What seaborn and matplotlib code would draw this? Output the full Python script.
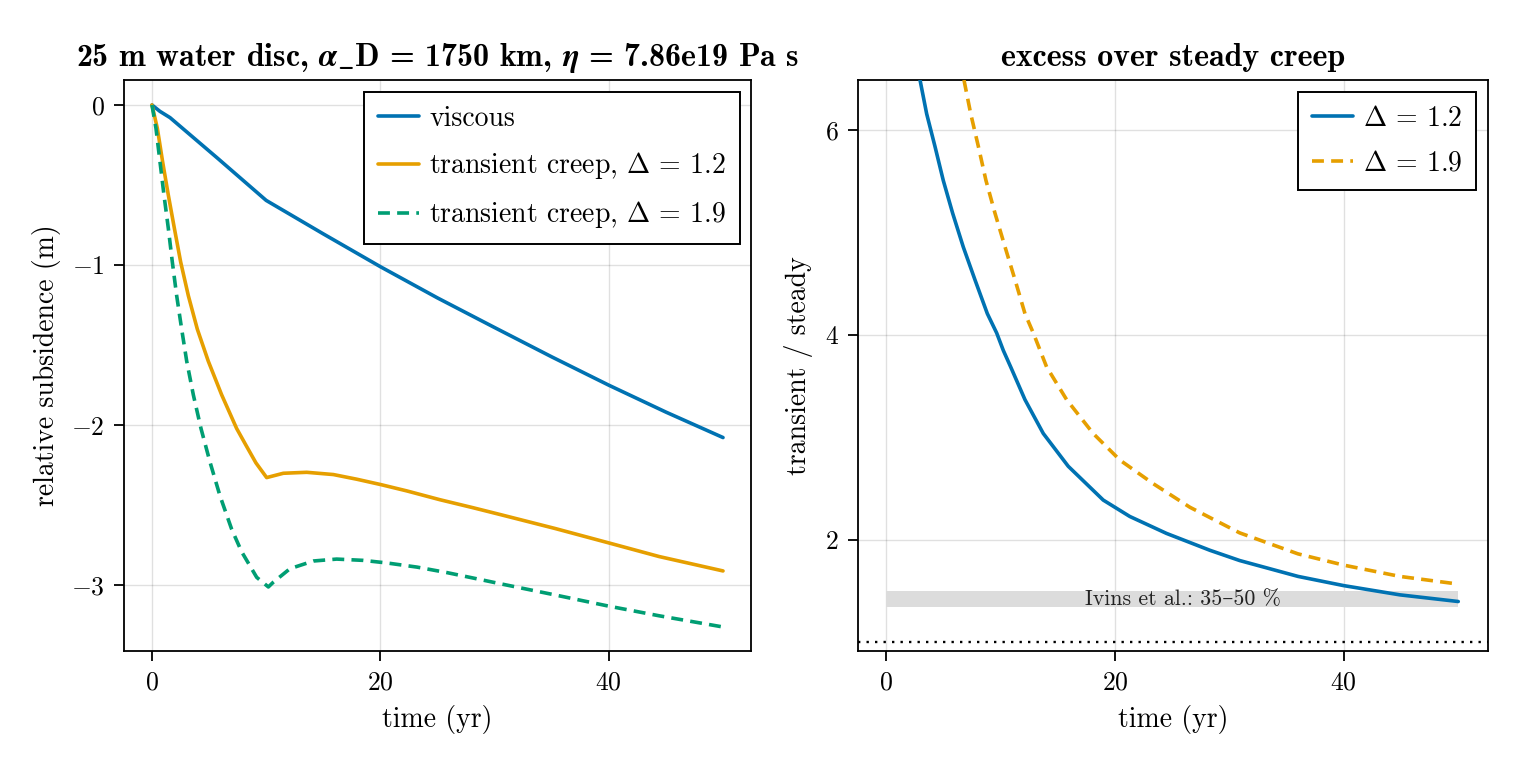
import matplotlib
matplotlib.use("Agg")
import matplotlib.pyplot as plt
from matplotlib.mathtext import MathTextParser
from matplotlib.font_manager import FontProperties
import seaborn as sns

# ---------------- data ----------------
# left panel: relative subsidence (m) vs time (yr)
t_visc = [0, 0.7, 1.58, 5.75, 10, 15, 20, 25, 30, 35, 40, 45, 50]
y_visc = [0, -0.04, -0.079, -0.333, -0.596, -0.805, -1.01, -1.205, -1.39, -1.573, -1.75, -1.918, -2.077]

t_d12 = [0, 0.47, 0.93, 1.43, 1.96, 2.51, 3.18, 3.97, 4.93, 6.1, 7.41, 8.23, 9.1, 10.04,
         11.5, 13.55, 15.88, 17.92, 20.05, 22.3, 25.2, 28.1, 30.5, 35.3, 40, 44.4, 50]
y_d12 = [0, -0.146, -0.354, -0.5625, -0.77, -0.98, -1.19, -1.40, -1.60, -1.81, -2.02, -2.125, -2.235, -2.327,
         -2.30, -2.294, -2.308, -2.337, -2.371, -2.41, -2.465, -2.515, -2.558, -2.645, -2.735, -2.82, -2.91]

t_d19 = [0, 0.35, 0.7, 1.05, 1.43, 1.78, 2.16, 2.6, 3.04, 3.62, 4.29, 5.08, 5.95, 6.98, 7.85, 9.17, 10.19,
         10.63, 12.08, 14.13, 16.17, 18.5, 20.55, 23.2, 25.8, 28.1, 30.5, 35.3, 40, 44.4, 50]
y_d19 = [0, -0.146, -0.354, -0.5625, -0.77, -0.98, -1.19, -1.40, -1.60, -1.81, -2.02, -2.23, -2.44, -2.65, -2.79, -2.95, -3.01,
         -2.98, -2.896, -2.848, -2.836, -2.844, -2.86, -2.886, -2.92, -2.954, -2.99, -3.06, -3.13, -3.19, -3.26]

# right panel: transient / steady ratio
t_r12 = [2.97, 3.55, 4.28, 5.0, 5.82, 6.75, 7.77, 8.85, 9.67, 10.25, 10.89, 12.14, 13.74, 15.92,
         18.98, 21.3, 24.5, 28.3, 30.9, 36, 40, 44.9, 50]
y_r12 = [6.49, 6.16, 5.84, 5.51, 5.19, 4.86, 4.54, 4.21, 4.02, 3.85, 3.69, 3.37, 3.04, 2.72,
         2.39, 2.23, 2.065, 1.90, 1.80, 1.645, 1.555, 1.465, 1.40]

t_r19 = [6.81, 7.4, 8.07, 8.73, 9.52, 10.4, 11.27, 12.14, 12.87, 14.03, 15.78, 18.1, 20.44, 23.35,
         26.55, 30.9, 36, 40, 44.9, 50]
y_r19 = [6.49, 6.16, 5.84, 5.51, 5.19, 4.86, 4.54, 4.21, 4.02, 3.69, 3.37, 3.04, 2.78, 2.55,
         2.32, 2.07, 1.865, 1.755, 1.645, 1.57]

band_t = [0, 50]
band_lo = 1.35
band_hi = 1.50
steady_level = 1.0

left_labels = ["viscous", r"transient creep, $\Delta$ = 1.2", r"transient creep, $\Delta$ = 1.9"]
right_labels = [r"$\Delta$ = 1.2", r"$\Delta$ = 1.9"]
band_label = "Ivins et al.: 35\u201350 %"
title_right = "excess over steady creep"
title_left_candidates = [
    r"25 m water disc, $\boldsymbol{\alpha}\_$D = 1750 km, $\boldsymbol{\eta}$ = 7.86e19 Pa s",
    r"25 m water disc, $\alpha\_$D = 1750 km, $\eta$ = 7.86e19 Pa s",
]

# ---------------- style ----------------
sns.set_theme(style="ticks")
plt.rcParams["font.family"] = ["cmr10", "DejaVu Serif"]
plt.rcParams["mathtext.fontset"] = "cm"
plt.rcParams["axes.formatter.use_mathtext"] = True
plt.rcParams["axes.unicode_minus"] = True
plt.rcParams["text.color"] = "black"
plt.rcParams["axes.labelcolor"] = "black"

def pick_title(cands):
    parser = MathTextParser("agg")
    for s in cands:
        try:
            parser.parse(s, dpi=100, prop=FontProperties(family="cmb10", size=23))
            return s
        except Exception:
            continue
    return cands[-1]

title_left = pick_title(title_left_candidates)

BLUE = "#0072B2"
ORANGE = "#E69F00"
GREEN = "#009E73"
TICK_FS = 18.5
LABEL_FS = 20
LEG_FS = 20
TITLE_FS = 23
LW = 2.6
DASH = (3.3, 2.0)

fig = plt.figure(figsize=(15.2, 7.6), dpi=100)
axL = fig.add_axes([124 / 1520, 1 - 651 / 760, (751 - 124) / 1520, (651 - 80) / 760])
axR = fig.add_axes([858 / 1520, 1 - 651 / 760, (1488 - 858) / 1520, (651 - 80) / 760])

def style_axes(ax):
    ax.grid(True, color="#000000", alpha=0.12, lw=1.0)
    ax.set_axisbelow(True)
    for s in ax.spines.values():
        s.set_color("black")
        s.set_linewidth(1.3)
        s.set_visible(True)
    ax.tick_params(axis="both", direction="out", length=7, width=1.3, color="black",
                   labelsize=TICK_FS, pad=7, labelcolor="black")

def style_legend(leg):
    leg.get_frame().set_linewidth(1.4)
    leg.get_frame().set_edgecolor("black")

leg_kw = dict(loc="upper right", borderaxespad=0, fontsize=LEG_FS, frameon=True,
              fancybox=False, framealpha=1, edgecolor="black", handlelength=1.47,
              handletextpad=0.36, labelspacing=0.65, borderpad=0.5)

# left panel
sns.lineplot(x=t_visc, y=y_visc, ax=axL, color=BLUE, lw=LW, label=left_labels[0])
sns.lineplot(x=t_d12, y=y_d12, ax=axL, color=ORANGE, lw=LW, label=left_labels[1])
sns.lineplot(x=t_d19, y=y_d19, ax=axL, color=GREEN, lw=LW, label=left_labels[2])
axL.lines[-1].set_dashes(DASH)
style_axes(axL)
axL.set_xlim(-2.45, 52.45)
axL.set_ylim(-3.41, 0.156)
axL.set_xticks([0, 20, 40])
axL.set_yticks([0, -1, -2, -3])
axL.set_xlabel("time (yr)", fontsize=LABEL_FS, labelpad=8)
axL.set_ylabel("relative subsidence (m)", fontsize=LABEL_FS, labelpad=7)
axL.set_title(title_left, fontsize=TITLE_FS, fontfamily=["cmb10", "DejaVu Serif"],
              fontweight="bold", pad=10)
legL = axL.legend(bbox_to_anchor=(0.9825, 0.979), **leg_kw)
style_legend(legL)

# right panel
axR.fill_between(band_t, band_lo, band_hi, color="#dcdcdc", lw=0, zorder=1)
axR.text(25.9, (band_lo + band_hi) / 2, band_label, ha="center", va="center",
         fontsize=15.8, color="#222222", zorder=2)
axR.axhline(steady_level, color="black", lw=1.7, dashes=(1.0, 2.6), zorder=2)
sns.lineplot(x=t_r12, y=y_r12, ax=axR, color=BLUE, lw=LW, label=right_labels[0], zorder=3)
sns.lineplot(x=t_r19, y=y_r19, ax=axR, color=ORANGE, lw=LW, label=right_labels[1], zorder=3)
axR.lines[-1].set_dashes(DASH)
style_axes(axR)
axR.set_xlim(-2.45, 52.6)
axR.set_ylim(0.917, 6.49)
axR.set_xticks([0, 20, 40])
axR.set_yticks([2, 4, 6])
axR.set_xlabel("time (yr)", fontsize=LABEL_FS, labelpad=8)
axR.set_ylabel("transient / steady", fontsize=LABEL_FS, labelpad=8)
axR.set_title(title_right, fontsize=TITLE_FS, fontfamily=["cmb10", "DejaVu Serif"],
              fontweight="bold", pad=10)
legR = axR.legend(bbox_to_anchor=(0.981, 0.979), **leg_kw)
style_legend(legR)

fig.savefig("out.png", dpi=100)
